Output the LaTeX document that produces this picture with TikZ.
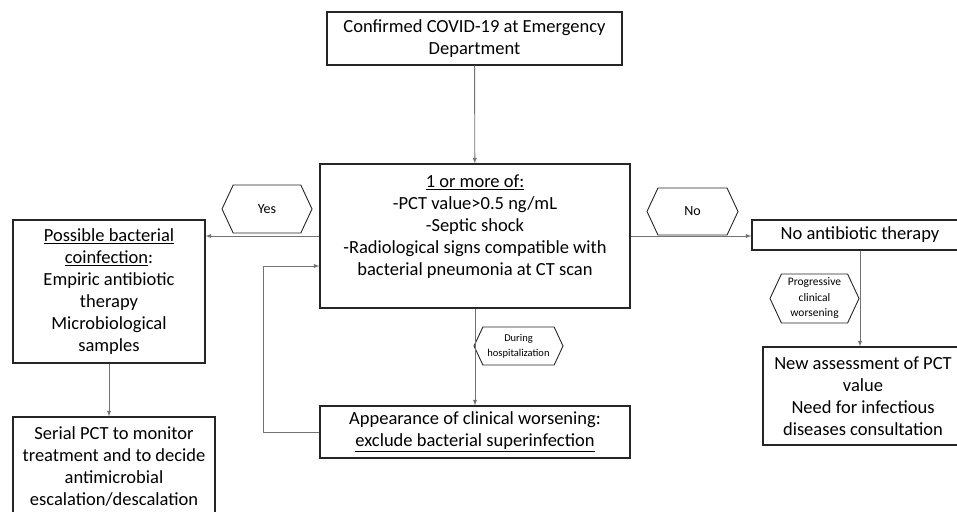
\documentclass[tikz,border=0pt]{standalone}
\usepackage{fontspec}
\setmainfont{Carlito}
\usetikzlibrary{positioning,arrows,shapes.symbols}

\begin{document}
\begin{tikzpicture}[x=1pt,y=-1pt,
  every node/.style={align=center, text=black},
  box/.style={shape=rectangle, draw=black!85, line width=1.1pt, inner sep=0pt,
    font=\fontsize{18.5}{22}\selectfont},
  tag/.style={shape=signal, signal to=east and west, signal pointer angle=130,
    draw=black!85, line width=0.9pt, inner sep=0pt},
  link/.style={draw=black!55, line width=0.9pt, -latex}
]
\useasboundingbox (0,0) rectangle (957,511);

\node[box, minimum width=295pt, minimum height=53pt] (covid) at (474.5,38.5)
  {Confirmed COVID-19 at Emergency\\Department};
\node[box, minimum width=310pt, minimum height=144pt] (crit) at (475,236)
  {\underline{1 or more of:}\\-PCT value>0.5 ng/mL\\-Septic shock\\
   -Radiological signs compatible with\\bacterial pneumonia at CT scan\\\mbox{}};
\node[box, minimum width=192pt, minimum height=143pt] (coinf) at (109,291.5)
  {\underline{Possible bacterial}\\\underline{coinfection}:\\Empiric antibiotic\\therapy\\
   Microbiological\\samples};
\node[box, minimum width=202pt, minimum height=98pt] (serial) at (114,466)
  {Serial PCT to monitor\\treatment and to decide\\antimicrobial\\escalation/descalation};
\node[box, minimum width=310pt, minimum height=52pt] (worse) at (475,432)
  {Appearance of clinical worsening:\\\underline{exclude bacterial superinfection}};
\node[box, minimum width=216pt, minimum height=30pt] (noab) at (860,235)
  {No antibiotic therapy};
\node[box, minimum width=200pt, minimum height=98pt] (newpct) at (863,396)
  {New assessment of PCT\\value\\Need for infectious\\diseases consultation};

\node[tag, minimum width=90pt, minimum height=48pt, font=\fontsize{14}{15}\selectfont]
  (yes) at (267,209) {Yes};
\node[tag, minimum width=91pt, minimum height=47pt, font=\fontsize{14}{15}\selectfont]
  (no) at (692.5,211.5) {No};
\node[tag, minimum width=89pt, minimum height=38pt, font=\fontsize{10.5}{15}\selectfont]
  (hosp) at (518.5,346) {During\\hospitalization};
\node[tag, minimum width=89pt, minimum height=49pt, font=\fontsize{11.5}{15.5}\selectfont]
  (prog) at (814.5,298.5) {Progressive\\clinical\\worsening};

\coordinate (back) at (263,266);
\draw[link] (covid) -- (crit);
\draw[link] (crit.west) -- (crit.west -| coinf.east);
\draw[link] (crit.east) -- (crit.east -| noab.west);
\draw[link] (coinf.south) -- (coinf.south |- serial.north);
\draw[link] (crit) -- (worse);
\draw[link] (noab.south) -- (noab.south |- newpct.north);
\draw[link] (worse.west) -| (back) -- (back -| crit.west);
\end{tikzpicture}
\end{document}
